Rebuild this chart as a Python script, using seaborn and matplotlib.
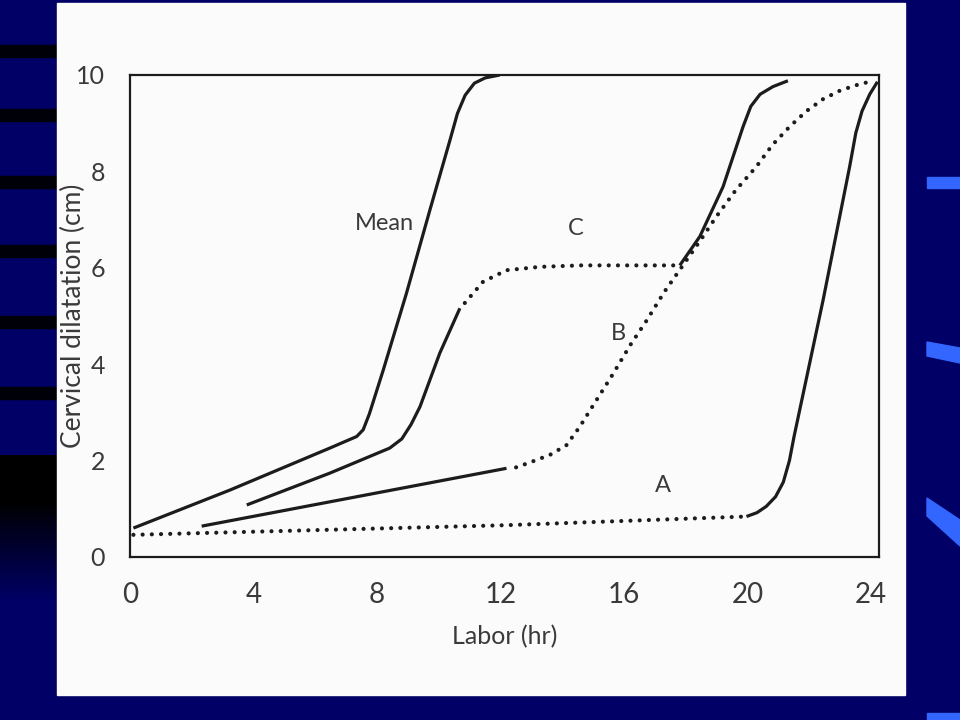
import numpy as np
import pandas as pd
import matplotlib
matplotlib.use("Agg")
import matplotlib.pyplot as plt
from matplotlib.patches import Rectangle, Polygon
import seaborn as sns

# ---------------- data ----------------
mean_x = [0.11, 3.24, 6.47, 7.34, 7.55, 7.75, 8.20, 8.95, 9.71, 10.36, 10.6, 10.85, 11.15, 11.5, 11.97]
mean_y = [0.60, 1.39, 2.26, 2.50, 2.64, 2.97, 3.88, 5.47, 7.20, 8.65, 9.20, 9.58, 9.83, 9.94, 10.0]

c_solid1_x = [3.78, 6.47, 8.41, 8.8, 9.1, 9.39, 10.03, 10.68]
c_solid1_y = [1.08, 1.74, 2.26, 2.45, 2.75, 3.12, 4.23, 5.16]
c_dotted_x = [10.84, 11.43, 12.19, 13.27, 14.6, 15.97, 17.8]
c_dotted_y = [5.27, 5.71, 5.95, 6.02, 6.05, 6.05, 6.05]
c_solid2_x = [17.8, 18.45, 19.2, 19.85, 20.1, 20.4, 20.82, 21.3]
c_solid2_y = [6.05, 6.65, 7.68, 8.93, 9.35, 9.60, 9.76, 9.88]

b_solid_x = [2.32, 12.19]
b_solid_y = [0.64, 1.84]
b_dotted_x = [12.5, 12.9, 13.6, 14.13, 14.56, 14.95, 15.64, 16.2, 16.72, 17.3, 17.9,
              18.5, 18.98, 19.6, 20.28, 20.8, 21.36, 21.9, 22.44, 23.0, 23.52, 24.06]
b_dotted_y = [1.86, 1.95, 2.12, 2.32, 2.70, 3.10, 3.80, 4.40, 4.90, 5.50, 6.05,
              6.60, 7.06, 7.60, 8.10, 8.55, 8.93, 9.25, 9.50, 9.68, 9.79, 9.88]

a_dotted_x = [0.11, 12.19, 19.96]
a_dotted_y = [0.46, 0.66, 0.84]
a_solid_x = [19.96, 20.3, 20.6, 20.9, 21.15, 21.35, 21.5, 22.44, 23.3, 23.5, 23.7, 23.95, 24.2]
a_solid_y = [0.84, 0.92, 1.05, 1.25, 1.55, 2.00, 2.50, 5.33, 8.10, 8.80, 9.25, 9.60, 9.86]

curve_labels = ["Mean", "C", "B", "A"]
label_x = [8.25, 14.43, 15.8, 17.24]
label_y = [6.92, 6.82, 4.64, 1.49]

x_ticks = [0, 4, 8, 12, 16, 20, 24]
y_ticks = [0, 2, 4, 6, 8, 10]
x_title = "Labor (hr)"
y_title = "Cervical dilatation (cm)"

# ---------------- figure ----------------
sns.set_theme(style="white")
plt.rcParams["font.family"] = ["Lato", "DejaVu Sans"]

NAVY = "#000066"
INK = "#1c1c1c"
TXT = "#3a3a3a"

fig = plt.figure(figsize=(9.6, 7.2), dpi=100, facecolor=NAVY)

# background decoration (slide template + scanned page)
bg = fig.add_axes([0, 0, 1, 1], zorder=-10)
bg.set_xlim(0, 960)
bg.set_ylim(720, 0)
bg.axis("off")
grad = np.zeros((160, 1, 3))
rows = np.arange(160)
grad[:, 0, 2] = 0.40 * np.where(rows < 50, 0.0, (rows - 50) / 110.0)
bg.imshow(grad, extent=(0, 57, 600, 455), aspect="auto", interpolation="bilinear", zorder=0)
for ys in [45, 109, 176, 245, 316, 387]:
    bg.add_patch(Rectangle((0, ys), 57, 12, color="#000008", zorder=1))
bg.add_patch(Polygon([[927, 177], [960, 177], [960, 188], [927, 188]], color="#3366ff", zorder=1))
bg.add_patch(Polygon([[927, 342], [960, 348], [960, 363], [927, 356]], color="#3366ff", zorder=1))
bg.add_patch(Polygon([[927, 498], [960, 520], [960, 546], [927, 516]], color="#3366ff", zorder=1))
bg.add_patch(Rectangle((927, 713), 33, 7, color="#3366ff", zorder=1))
bg.add_patch(Rectangle((57, 3), 848, 692, color="#fbfbfb", zorder=2))

ax = fig.add_axes([130 / 960, 163 / 720, 749 / 960, 482 / 720])
ax.set_facecolor("none")

solid_kw = dict(color=INK, lw=2.3, sort=False, estimator=None, solid_capstyle="butt")
dot_kw = dict(color=INK, lw=3.0, sort=False, estimator=None,
              linestyle=(0, (0.01, 2.2)), dash_capstyle="round")

sns.lineplot(x=mean_x, y=mean_y, ax=ax, **solid_kw)
sns.lineplot(x=c_solid1_x, y=c_solid1_y, ax=ax, **solid_kw)
sns.lineplot(x=c_dotted_x, y=c_dotted_y, ax=ax, **dot_kw)
sns.lineplot(x=c_solid2_x, y=c_solid2_y, ax=ax, **solid_kw)
sns.lineplot(x=b_solid_x, y=b_solid_y, ax=ax, **solid_kw)
sns.lineplot(x=b_dotted_x, y=b_dotted_y, ax=ax, **dot_kw)
sns.lineplot(x=a_dotted_x, y=a_dotted_y, ax=ax, **dot_kw)
sns.lineplot(x=a_solid_x, y=a_solid_y, ax=ax, **solid_kw)

for lab, lx, ly in zip(curve_labels, label_x, label_y):
    ax.text(lx, ly, lab, ha="center", va="center", fontsize=17, color=TXT)

ax.set_xlim(0, 24.25)
ax.set_ylim(0, 10)
ax.set_xticks(x_ticks)
ax.set_yticks(y_ticks)
ax.set_xticklabels([str(v) for v in x_ticks])
ax.set_yticklabels([str(v) for v in y_ticks])
ax.tick_params(axis="x", length=0, labelsize=20, labelcolor=TXT, pad=18)
ax.tick_params(axis="y", length=0, labelsize=18, labelcolor=TXT, pad=18)
for s in ax.spines.values():
    s.set_visible(True)
    s.set_color(INK)
    s.set_linewidth(1.6)
ax.set_xlabel(x_title, fontsize=18, color=TXT, labelpad=12)
ax.set_ylabel(y_title, fontsize=19, color=TXT)
ax.yaxis.set_label_coords(-0.059, 0.5)
ax.grid(False)

fig.savefig("out.png", dpi=100, facecolor=NAVY)
